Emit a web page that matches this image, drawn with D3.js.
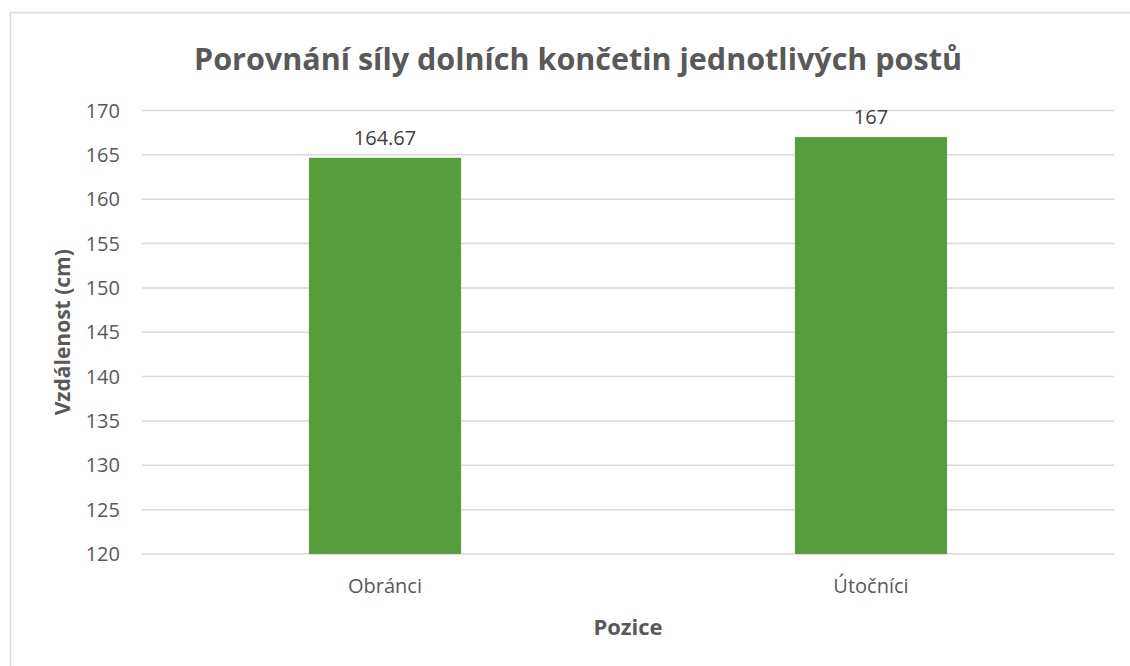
<!DOCTYPE html>
<html>
<head>
<meta charset="utf-8">
<script src="https://cdn.jsdelivr.net/npm/d3@7"></script>
<style>
  body { margin: 0; background: #fff; }
  text { font-family: "Open Sans", "Noto Sans", sans-serif; fill: #595959; }
</style>
</head>
<body>
<svg width="1130" height="666"></svg>
<script>
const categories = ["Obránci", "Útočníci"];
const values = [164.67, 167];
const valueLabels = ["164.67", "167"];
const yTicks = [120, 125, 130, 135, 140, 145, 150, 155, 160, 165, 170];

const svg = d3.select("svg");

// chart frame (runs off the right/bottom of the picture)
svg.append("rect")
    .attr("x", 10.5).attr("y", 12.5)
    .attr("width", 1200).attr("height", 700)
    .attr("fill", "none")
    .attr("stroke", "#d9d9d9")
    .attr("stroke-width", 1.5);

const plotLeft = 142, plotRight = 1114, plotTop = 110.5, plotBottom = 554;

const x = d3.scaleBand()
            .domain(categories)
            .range([plotLeft, plotRight])
            .paddingInner(0.687)
            .paddingOuter(0.3435);

const y = d3.scaleLinear()
            .domain([120, 170])
            .range([plotBottom, plotTop]);

// gridlines
svg.append("g")
    .selectAll("line")
    .data(yTicks)
    .join("line")
        .attr("x1", plotLeft).attr("x2", plotRight)
        .attr("y1", d => y(d)).attr("y2", d => y(d))
        .attr("stroke", "#d9d9d9")
        .attr("stroke-width", 1.5);

// y tick labels
svg.append("g")
    .selectAll("text")
    .data(yTicks)
    .join("text")
        .attr("x", 120)
        .attr("y", d => y(d))
        .attr("dy", "0.35em")
        .attr("text-anchor", "end")
        .style("font-size", "20px")
        .text(d => d);

// bars
svg.append("g")
    .selectAll("rect")
    .data(values)
    .join("rect")
        .attr("x", (d, i) => x(categories[i]))
        .attr("width", x.bandwidth())
        .attr("y", d => y(d))
        .attr("height", d => plotBottom - y(d))
        .attr("fill", "#559e3b");

// value labels
svg.append("g")
    .selectAll("text")
    .data(values)
    .join("text")
        .attr("x", (d, i) => x(categories[i]) + x.bandwidth() / 2)
        .attr("y", d => y(d) - 13)
        .attr("text-anchor", "middle")
        .style("font-size", "20px")
        .style("fill", "#404040")
        .text((d, i) => valueLabels[i]);

// x category labels
svg.append("g")
    .selectAll("text")
    .data(categories)
    .join("text")
        .attr("x", d => x(d) + x.bandwidth() / 2)
        .attr("y", 593)
        .attr("text-anchor", "middle")
        .style("font-size", "20px")
        .text(d => d);

// title
svg.append("text")
    .attr("x", 578).attr("y", 70)
    .attr("text-anchor", "middle")
    .style("font-size", "30.5px")
    .style("font-weight", "bold")
    .text("Porovnání síly dolních končetin jednotlivých postů");

// axis titles
svg.append("text")
    .attr("x", (plotLeft + plotRight) / 2).attr("y", 635)
    .attr("text-anchor", "middle")
    .style("font-size", "22px")
    .style("font-weight", "bold")
    .text("Pozice");

svg.append("text")
    .attr("transform", `translate(70,${(plotTop + plotBottom) / 2}) rotate(-90)`)
    .attr("text-anchor", "middle")
    .style("font-size", "21px")
    .style("font-weight", "bold")
    .text("Vzdálenost (cm)");
</script>
</body>
</html>
